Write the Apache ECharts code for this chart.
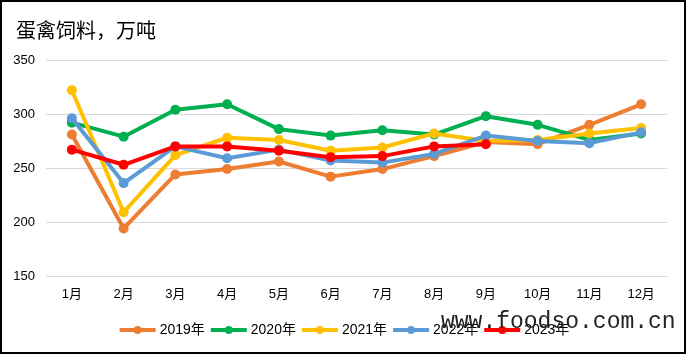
<!DOCTYPE html>
<html><head><meta charset="utf-8">
<script src="https://cdn.jsdelivr.net/npm/echarts@6/dist/echarts.min.js"></script>
<style>html,body{margin:0;padding:0;background:#fff}#c{width:687px;height:355px}</style>
</head><body><div id="c"></div>
<script>
const months = ['1月','2月','3月','4月','5月','6月','7月','8月','9月','10月','11月','12月'];
const s2019 = [281, 194, 244, 249, 256, 242, 249, 261, 274, 272, 290, 309];
const s2020 = [292, 279, 304, 309, 286, 280, 285, 281, 298, 290, 276, 282];
const s2021 = [322, 209, 262, 278, 276, 266, 269, 282, 275, 276, 282, 287];
const s2022 = [296, 236, 270, 259, 267, 257, 255, 263, 280, 275, 273, 283];
const s2023 = [267, 253, 270, 270, 266, 260, 261, 270, 272];
const names = ['2019年','2020年','2021年','2022年','2023年'];
const colors = ['#ED7D31','#00B050','#FFC000','#5B9BD5','#FF0000'];
const yTicks = {min:150, max:350, interval:50};

const chart = echarts.init(document.getElementById('c'), null, {renderer:'canvas'});
const all = [s2019, s2020, s2021, s2022, s2023];
chart.setOption({
  animation:false,
  color: colors,
  title:{text:'蛋禽饲料，万吨', left:11, top:15,
    textStyle:{fontFamily:'Noto Sans CJK SC', fontSize:20, fontWeight:'normal', color:'#000'}},
  grid:{left:46, right:20, top:60, bottom:79},
  legend:{bottom:13, left:'center', itemWidth:36, itemHeight:10, itemGap:4,
    textStyle:{fontSize:14, color:'#000', fontFamily:'Liberation Sans, Noto Sans CJK SC', padding:[0,0,0,-1]},
    data:names.map((n,i)=>({name:n, itemStyle:{color:colors[i]}, lineStyle:{width:4, color:colors[i]}}))},
  xAxis:{type:'category', data:months, boundaryGap:true,
    axisLine:{show:false}, axisTick:{show:false},
    axisLabel:{fontSize:13, color:'#000', margin:12, fontFamily:'Liberation Sans, Noto Sans CJK SC'}},
  yAxis:{type:'value', min:yTicks.min, max:yTicks.max, interval:yTicks.interval,
    axisLine:{show:false}, axisTick:{show:false},
    splitLine:{lineStyle:{color:'#d9d9d9', width:1}},
    axisLabel:{fontSize:13, color:'#000', margin:11, fontFamily:'Liberation Sans'}},
  series: all.map((d,i)=>({
    name:names[i], type:'line', data:d, symbol:'circle', symbolSize:10,
    lineStyle:{width:4, color:colors[i]}, itemStyle:{color:colors[i]}, z:2+i
  })),
  graphic:[
    {type:'rect', shape:{x:1, y:1, width:684, height:352}, style:{fill:'none', stroke:'#000', lineWidth:2}, z:100},
    {type:'text', left:441, top:310, z:101,
      style:{text:'www.foodso.com.cn', font:'23px "Liberation Mono", monospace', fill:'#222'}}
  ]
});
</script></body></html>
